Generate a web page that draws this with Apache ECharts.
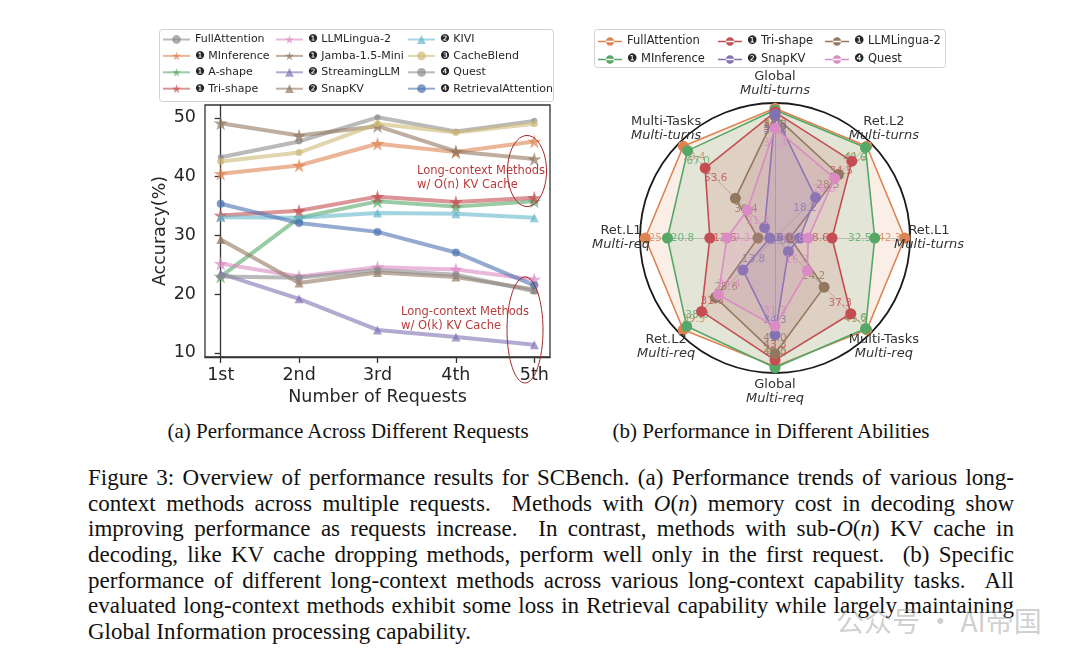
<!DOCTYPE html>
<html><head><meta charset="utf-8">
<script src="https://cdn.jsdelivr.net/npm/echarts@6/dist/echarts.min.js"></script>
<style>
html,body{margin:0;padding:0;background:#fff;width:1080px;height:658px;overflow:hidden;}
#c1,#c2{position:absolute;left:0;top:0;width:1080px;height:412px;}
#c2{pointer-events:none;}
.sub{position:absolute;top:419px;font-family:'Liberation Serif',serif;font-size:21px;color:#111;white-space:nowrap;transform:translateX(-50%);}
#cap{position:absolute;left:88px;top:465px;width:926px;font-family:'Liberation Serif',serif;font-size:23px;color:#111;word-spacing:-2px;}
#cap div{height:25.7px;line-height:25.7px;text-align:justify;text-align-last:justify;overflow:hidden;}
#cap div.last{text-align-last:left;word-spacing:0;}
#wm{position:absolute;left:836px;top:600px;font-family:'Noto Sans CJK SC',sans-serif;font-size:28px;color:rgba(140,140,140,0.42);white-space:nowrap;}
</style></head>
<body>
<div id="c1"></div>
<div id="c2"></div>
<div class="sub" style="left:348px;">(a) Performance Across Different Requests</div>
<div class="sub" style="left:771px;">(b) Performance in Different Abilities</div>
<div id="cap">
<div>Figure 3: Overview of performance results for SCBench. (a) Performance trends of various long-</div>
<div>context methods across multiple requests. &nbsp;Methods with <i>O</i>(<i>n</i>) memory cost in decoding show</div>
<div>improving performance as requests increase. &nbsp;In contrast, methods with sub-<i>O</i>(<i>n</i>) KV cache in</div>
<div>decoding, like KV cache dropping methods, perform well only in the first request. &nbsp;(b) Specific</div>
<div>performance of different long-context methods across various long-context capability tasks. &nbsp;All</div>
<div>evaluated long-context methods exhibit some loss in Retrieval capability while largely maintaining</div>
<div class="last">Global Information processing capability.</div>
</div>
<div id="wm">公众号 · AI帝国</div>
<script>
// ---------- (a) line chart data ----------
const requests = ['1st', '2nd', '3rd', '4th', '5th'];
const yTicks = [10, 20, 30, 40, 50];
const lineNames = ['FullAttention', '❶ MInference', '❶ A-shape', '❶ Tri-shape',
  '❶ LLMLingua-2', '❶ Jamba-1.5-Mini', '❷ StreamingLLM', '❷ SnapKV',
  '❷ KIVI', '❸ CacheBlend', '❹ Quest', '❹ RetrievalAttention'];
const fullAttention      = [43.3, 46.0, 50.1, 47.7, 49.5];
const mInference         = [40.5, 41.9, 45.6, 44.2, 46.0];
const aShape             = [23.0, 33.0, 35.8, 34.9, 35.8];
const triShape           = [33.4, 34.2, 36.6, 35.7, 36.4];
const llmLingua2         = [25.2, 23.0, 24.6, 24.2, 22.5];
const jamba15Mini        = [49.1, 47.0, 48.6, 44.3, 43.0];
const streamingLLM       = [23.5, 19.2, 13.9, 12.7, 11.4];
const snapKV             = [29.3, 21.9, 23.7, 22.9, 20.8];
const kivi               = [33.1, 33.0, 33.8, 33.7, 33.0];
const cacheBlend         = [42.6, 44.1, 49.0, 47.5, 49.0];
const quest              = [23.0, 22.8, 24.1, 23.3, 20.5];
const retrievalAttention = [35.4, 32.1, 30.6, 27.1, 21.5];

// ---------- (b) radar data ----------
const abilityTop    = ['Global', 'Multi-Tasks', 'Ret.L1', 'Ret.L2', 'Global', 'Multi-Tasks', 'Ret.L1', 'Ret.L2'];
const abilityBottom = ['Multi-turns', 'Multi-turns', 'Multi-req', 'Multi-req', 'Multi-req', 'Multi-req', 'Multi-turns', 'Multi-turns'];
const radarNames = ['FullAttention', '❶ MInference', '❶ Tri-shape', '❶ LLMLingua-2', '❷ SnapKV', '❹ Quest'];
const rFullAttention = [37.0, 70.4, 25.1, 39.5, 45.5, 45.2, 42.3, 41.2];
const rMInference    = [36.5, 67.0, 20.8, 38.0, 46.0, 44.6, 32.5, 40.6];
const rTriShape      = [35.9, 53.6, 12.6, 31.6, 43.3, 37.3, 18.6, 34.5];
const rLLMLingua2    = [34.8, 30.4, 3.3, 25.6, 41.0, 24.2, 4.9, 28.5];
const rSnapKV        = [35.2, 8.0, 1.0, 13.8, 34.3, 6.6, 8.1, 18.2];
const rQuest         = [31.3, 21.3, 9.3, 24.4, 31.3, 16.0, 10.8, 26.8];

// ---------- styles ----------
const FONT = 'DejaVu Sans';
const TXT = '#262626';
const STAR = 'path://M50,0 L61.2,34.5 L97.6,34.5 L68.2,55.9 L79.4,90.5 L50,69.1 L20.6,90.5 L31.8,55.9 L2.4,34.5 L38.8,34.5 Z';
const lineValues = [fullAttention, mInference, aShape, triShape, llmLingua2, jamba15Mini,
  streamingLLM, snapKV, kivi, cacheBlend, quest, retrievalAttention];
const lineColors = ['#8c8c8c', '#dd8452', '#55a868', '#c44e52', '#da8bc3', '#937860',
  '#8172b3', '#937860', '#64b5cd', '#ccb974', '#8c8c8c', '#4c72b0'];
const lineSymbols = ['circle', STAR, STAR, STAR, STAR, STAR, 'triangle', 'triangle', 'triangle', 'circle', 'circle', 'circle'];
const lineSymSize = [6, 14, 14, 14, 14, 14, 9, 9, 9, 7, 7, 8];

const c1 = echarts.init(document.getElementById('c1'), null, {renderer: 'canvas'});
const lineSeries = lineNames.map((n, k) => ({
  name: n, type: 'line',
  data: lineValues[k].map((v, i) => [i, v]),
  symbol: lineSymbols[k], symbolSize: lineSymSize[k],
  color: lineColors[k],
  lineStyle: {width: 4, opacity: 0.6},
  itemStyle: {opacity: 0.7},
  emphasis: {disabled: true},
  z: 2 + k
}));
const legendBase = {
  orient: 'vertical', itemWidth: 27, itemHeight: 11, itemGap: 3.4,
  textStyle: {fontFamily: FONT, fontSize: 11, color: TXT, lineHeight: 13},
  padding: 0, selectedMode: false
};
c1.setOption({
  animation: false,
  textStyle: {fontFamily: FONT},
  grid: {left: 205, top: 105, width: 345, height: 252, show: true, borderColor: '#333', borderWidth: 1.3, backgroundColor: 'transparent'},
  xAxis: {
    type: 'value', min: -0.2, max: 4.2,
    name: 'Number of Requests', nameLocation: 'middle', nameGap: 27,
    nameTextStyle: {fontFamily: FONT, fontSize: 17.5, color: TXT},
    axisLine: {show: true, lineStyle: {color: '#333', width: 1.3}},
    axisTick: {show: true, length: 6, customValues: requests.map((r, i) => i), lineStyle: {color: '#333', width: 1.3}},
    axisLabel: {customValues: requests.map((r, i) => i), formatter: v => requests[Math.round(v)], fontFamily: FONT, fontSize: 17.5, color: TXT, margin: 9},
    splitLine: {show: false}
  },
  yAxis: {
    type: 'value', min: 9.3, max: 52.2,
    name: 'Accuracy(%)', nameLocation: 'middle', nameGap: 35, nameRotate: 90,
    nameTextStyle: {fontFamily: FONT, fontSize: 17.5, color: TXT},
    axisLine: {show: true, lineStyle: {color: '#333', width: 1.3}},
    axisTick: {show: true, length: 6, customValues: yTicks, lineStyle: {color: '#333', width: 1.3}},
    axisLabel: {customValues: yTicks, fontFamily: FONT, fontSize: 17.5, color: TXT, margin: 9},
    splitLine: {show: false}
  },
  legend: [
    Object.assign({left: 162, top: 33, data: lineNames.slice(0, 4)}, legendBase),
    Object.assign({left: 275, top: 33, data: lineNames.slice(4, 8)}, legendBase),
    Object.assign({left: 407, top: 33, data: lineNames.slice(8, 12)}, legendBase)
  ],
  graphic: [
    {type: 'rect', shape: {x: 159.5, y: 29.5, width: 394, height: 72, r: 3}, style: {fill: 'rgba(255,255,255,0.8)', stroke: '#d0d0d0', lineWidth: 1}, z: -1, silent: true},
    {type: 'text', left: 417, top: 164, style: {text: 'Long-context Methods\nw/ O(n) KV Cache', fill: '#b83c3c', font: '11.5px "DejaVu Sans"', lineHeight: 14}, z: 50},
    {type: 'text', left: 401, top: 305, style: {text: 'Long-context Methods\nw/ O(k) KV Cache', fill: '#b83c3c', font: '11.5px "DejaVu Sans"', lineHeight: 14}, z: 50},
    {type: 'ellipse', shape: {cx: 527, cy: 171, rx: 19.5, ry: 35.5}, style: {fill: 'none', stroke: '#a02828', lineWidth: 1}, z: 50},
    {type: 'ellipse', shape: {cx: 525, cy: 330, rx: 18, ry: 53}, style: {fill: 'none', stroke: '#a02828', lineWidth: 1}, z: 50}
  ],
  series: lineSeries
});

// ---------- radar ----------
const c2 = echarts.init(document.getElementById('c2'), null, {renderer: 'canvas'});
const radarValues = [rFullAttention, rMInference, rTriShape, rLLMLingua2, rSnapKV, rQuest];
const radarColors = ['#dd8452', '#55a868', '#c44e52', '#937860', '#8172b3', '#da8bc3'];
const R_CENTER = [775, 238], R_RADIUS = 135, R_LABEL = 154, LABEL_INSET = 15;
const indicator = abilityTop.map((a, j) => ({
  name: a + ' ' + abilityBottom[j],
  min: 0,
  max: Math.max.apply(null, radarValues.map(s => s[j])) * 1.04
}));
function hexA(hex, a) {
  const n = parseInt(hex.slice(1), 16);
  return 'rgba(' + (n >> 16) + ',' + ((n >> 8) & 255) + ',' + (n & 255) + ',' + a + ')';
}
// axis names as centered two-line labels around the circle
const nameGraphics = [];
abilityTop.forEach((t, j) => {
  const ang = (90 + j * 360 / abilityTop.length) * Math.PI / 180;
  const cx = R_CENTER[0] + R_LABEL * Math.cos(ang);
  const cy = R_CENTER[1] - R_LABEL * Math.sin(ang);
  nameGraphics.push({type: 'text', x: cx, y: cy - 7, style: {text: t, align: 'center', verticalAlign: 'middle', font: '13px "DejaVu Sans"', fill: '#333'}, z: 60, silent: true});
  nameGraphics.push({type: 'text', x: cx, y: cy + 7, style: {text: abilityBottom[j], align: 'center', verticalAlign: 'middle', font: 'italic 13px "DejaVu Sans"', fill: '#333'}, z: 60, silent: true});
});
// move each value label a little toward the centre, beside its point
function inwardLabel(params) {
  const r = params.rect;
  const px = r.x + r.width / 2, py = r.y + r.height / 2;
  const dx = px - R_CENTER[0], dy = py - R_CENTER[1];
  const d = Math.sqrt(dx * dx + dy * dy);
  if (d < 1) return {};
  const off = Math.min(LABEL_INSET, d);
  return {dx: -dx / d * off, dy: -dy / d * off};
}
const LEG_ICON = 'path://M0,4.2h26v1.6H0zM8.5,5a4.5,4.5 0 1,0 9,0a4.5,4.5 0 1,0 -9,0z';
const rLegendBase = {
  orient: 'vertical', itemWidth: 24, itemHeight: 9, itemGap: 5,
  textStyle: {fontFamily: FONT, fontSize: 11.5, color: TXT, lineHeight: 13},
  padding: 0, selectedMode: false, icon: LEG_ICON
};
const legItems = (names) => names.map(n => ({name: n, itemStyle: {color: radarColors[radarNames.indexOf(n)]}}));
c2.setOption({
  animation: false,
  textStyle: {fontFamily: FONT},
  legend: [
    Object.assign({left: 598, top: 35, data: legItems(radarNames.slice(0, 2))}, rLegendBase),
    Object.assign({left: 718, top: 35, data: legItems([radarNames[2], radarNames[4]])}, rLegendBase),
    Object.assign({left: 825, top: 35, data: legItems([radarNames[3], radarNames[5]])}, rLegendBase)
  ],
  graphic: [
    {type: 'rect', shape: {x: 594.5, y: 29.5, width: 351, height: 38, r: 3}, style: {fill: 'rgba(255,255,255,0.8)', stroke: '#d0d0d0', lineWidth: 1}, z: -1, silent: true}
  ].concat(nameGraphics),
  radar: {
    center: R_CENTER, radius: R_RADIUS, startAngle: 90, shape: 'circle', splitNumber: 1,
    indicator: indicator,
    axisName: {show: false},
    splitLine: {lineStyle: {color: '#1a1a1a', width: 1.8}},
    splitArea: {show: false},
    axisLine: {lineStyle: {color: '#c8c8c8', width: 1}},
    axisTick: {show: false},
    axisLabel: {show: false}
  },
  series: radarNames.map((n, k) => ({
    name: n, type: 'radar',
    symbol: 'circle', symbolSize: 11,
    color: radarColors[k],
    lineStyle: {width: 1.6, color: radarColors[k]},
    itemStyle: {color: radarColors[k]},
    areaStyle: {color: hexA(radarColors[k], 0.2)},
    label: {
      show: true, position: ['50%', '50%'], align: 'center', verticalAlign: 'middle',
      overflow: 'none', fontFamily: FONT, fontSize: 10.5,
      color: hexA(radarColors[k], 0.8),
      formatter: p => (typeof p.value === 'number' ? p.value.toFixed(1) : '')
    },
    labelLayout: inwardLabel,
    emphasis: {disabled: true},
    z: 2 + k,
    data: [{name: n, value: radarValues[k]}]
  }))
});
</script>
</body></html>
